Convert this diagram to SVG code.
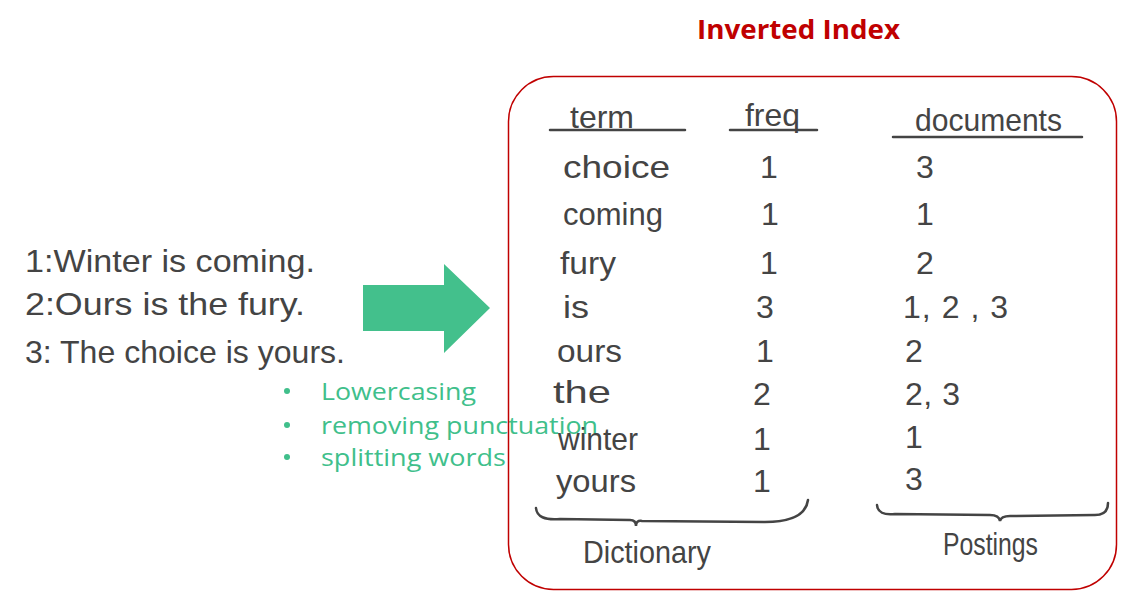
<svg xmlns="http://www.w3.org/2000/svg" width="1134" height="611" viewBox="0 0 1134 611">
<style>
.hw{font-family:"Liberation Sans",Arial,sans-serif;fill:#444;font-size:32px}
.bul{font-family:"Open Sans","Liberation Sans",sans-serif;fill:#40BF8B;font-size:24px}
.ln{stroke:#444;stroke-width:2.5;fill:none;stroke-linecap:round}
</style>
<rect width="1134" height="611" fill="#fff"/>
<g id="title"><text x="697" y="39" font-family="'Open Sans','Liberation Sans',sans-serif" font-weight="bold" font-size="27" fill="#C00000" textLength="203" lengthAdjust="spacingAndGlyphs">Inverted Index</text></g>
<g id="docs">
<text class="hw" x="25" y="272" textLength="290" lengthAdjust="spacingAndGlyphs">1:Winter is coming.</text>
<text class="hw" x="25" y="315" textLength="280" lengthAdjust="spacingAndGlyphs">2:Ours is the fury.</text>
<text class="hw" x="25" y="363" textLength="320" lengthAdjust="spacingAndGlyphs">3: The choice is yours.</text>
</g>
<g id="steps">
<circle cx="287" cy="391" r="3" fill="#40BF8B"/><text class="bul" x="321" y="400" textLength="155" lengthAdjust="spacingAndGlyphs">Lowercasing</text>
<circle cx="287" cy="425" r="3" fill="#40BF8B"/><text class="bul" x="321" y="434" textLength="277" lengthAdjust="spacingAndGlyphs">removing punctuation</text>
<circle cx="287" cy="457" r="3" fill="#40BF8B"/><text class="bul" x="321" y="466" textLength="185" lengthAdjust="spacingAndGlyphs">splitting words</text>
</g>
<g id="arrow"><polygon points="363,285 444,285 444,264 490,308 444,353 444,331 363,331" fill="#43C08C"/></g>
<g id="index">
<rect x="508.5" y="76.5" width="608" height="513" rx="45" fill="none" stroke="#C00000" stroke-width="1.5"/>
<text class="hw" x="570" y="128" font-size="24" textLength="64" lengthAdjust="spacingAndGlyphs">term</text>
<path class="ln" d="M550,130 L685,130"/>
<text class="hw" x="745" y="126" font-size="28" textLength="55" lengthAdjust="spacingAndGlyphs">freq</text>
<path class="ln" d="M730,130 L817,130"/>
<text class="hw" x="915" y="131" font-size="28" textLength="147" lengthAdjust="spacingAndGlyphs">documents</text>
<path class="ln" d="M893,137 L1082,137"/>
<g id="rows">
<text class="hw" x="563" y="178" textLength="107" lengthAdjust="spacingAndGlyphs">choice</text><text class="hw" x="760" y="178">1</text><text class="hw" x="916" y="178">3</text>
<text class="hw" x="563" y="225" textLength="100" lengthAdjust="spacingAndGlyphs">coming</text><text class="hw" x="761" y="225">1</text><text class="hw" x="916" y="225">1</text>
<text class="hw" x="560" y="274" textLength="56" lengthAdjust="spacingAndGlyphs">fury</text><text class="hw" x="760" y="274">1</text><text class="hw" x="916" y="274">2</text>
<text class="hw" x="563" y="318" textLength="26" lengthAdjust="spacingAndGlyphs">is</text><text class="hw" x="756" y="318">3</text><text class="hw" x="903" y="318" textLength="105" lengthAdjust="spacing">1, 2 ,  3</text>
<text class="hw" x="557" y="362" textLength="65" lengthAdjust="spacingAndGlyphs">ours</text><text class="hw" x="756" y="362">1</text><text class="hw" x="905" y="362">2</text>
<text class="hw" x="553" y="403" textLength="58" lengthAdjust="spacingAndGlyphs">the</text><text class="hw" x="753" y="405">2</text><text class="hw" x="905" y="405" textLength="55" lengthAdjust="spacing">2, 3</text>
<text class="hw" x="558" y="450" textLength="80" lengthAdjust="spacingAndGlyphs">winter</text><text class="hw" x="753" y="450">1</text><text class="hw" x="905" y="448">1</text>
<text class="hw" x="556" y="492" textLength="80" lengthAdjust="spacingAndGlyphs">yours</text><text class="hw" x="753" y="492">1</text><text class="hw" x="905" y="490">3</text>
</g>
<path class="ln" d="M536,508 Q537,521 560,519 L630,520 Q636,520 636,526 Q636,520 642,521 L765,522 Q805,522 808,500"/>
<path class="ln" d="M877,505 Q878,516 895,514 L990,515 Q999,515 1000,521 Q1001,516 1010,516 L1095,515 Q1108,515 1108,503"/>
<text class="hw" x="583" y="563" font-size="30" textLength="128" lengthAdjust="spacingAndGlyphs">Dictionary</text>
<text class="hw" x="943" y="555" font-size="26" textLength="95" lengthAdjust="spacingAndGlyphs">Postings</text>
</g>
</svg>
